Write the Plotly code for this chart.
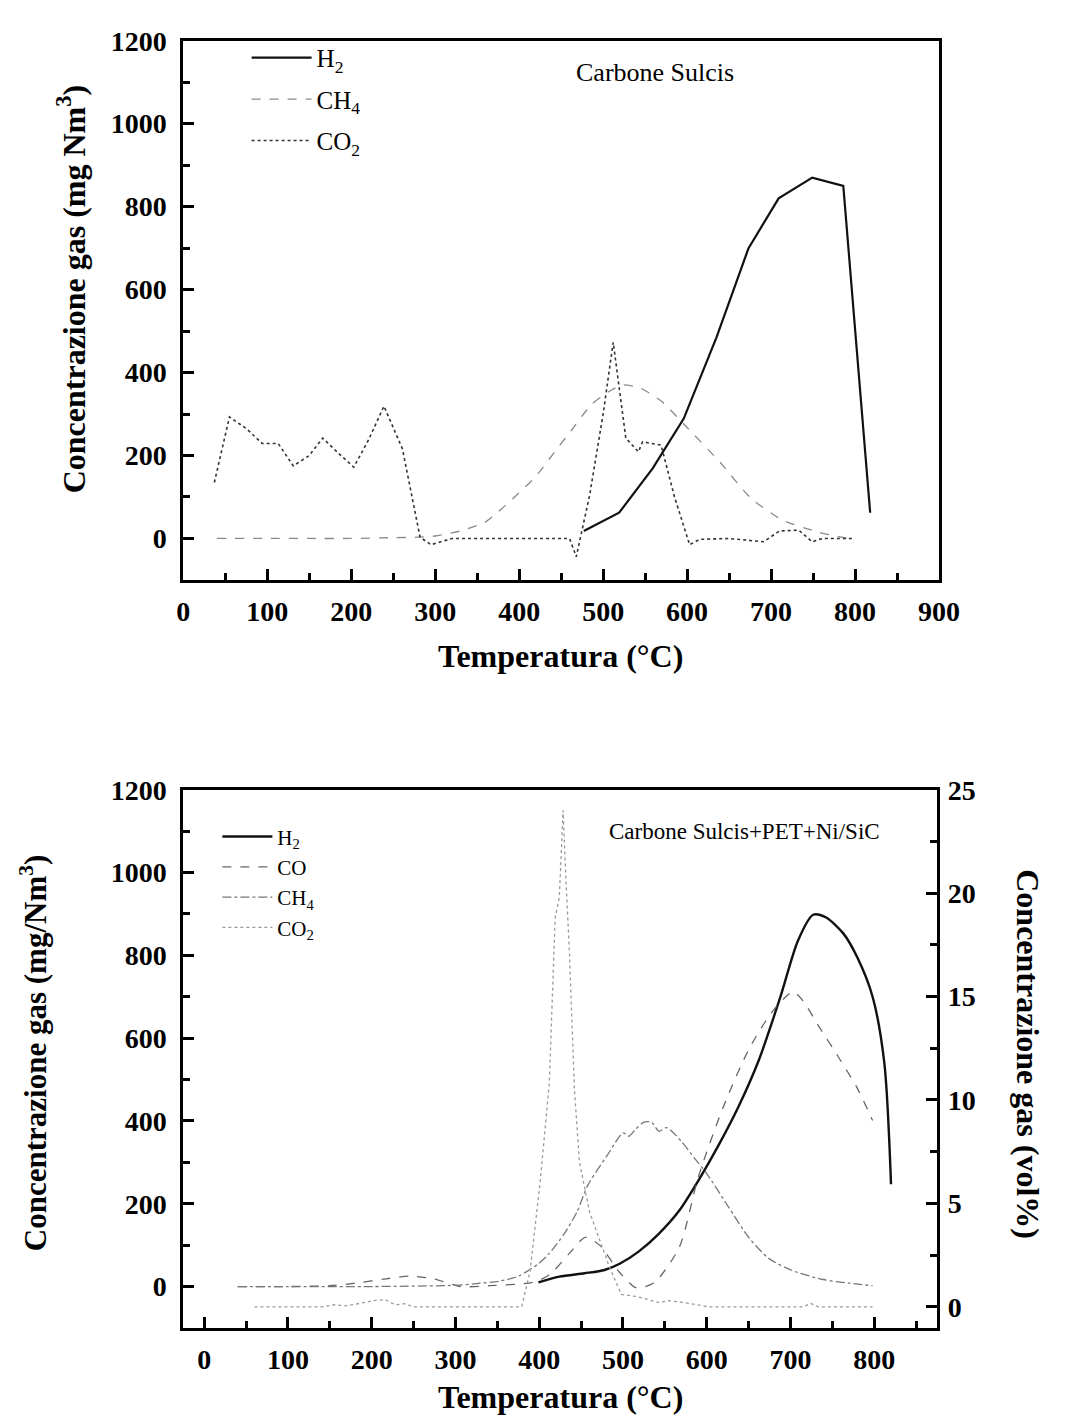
import plotly.graph_objects as go

# ---------------- Top chart: Carbone Sulcis ----------------
top_h2_x = [477, 519, 559, 596, 635, 673, 709, 749, 786, 818]
top_h2_y = [18, 62, 169, 289, 485, 699, 820, 870, 850, 62]

top_ch4_x = [40, 100, 150, 200, 250, 280, 300, 330, 360, 393, 420, 442, 465, 486, 510, 524, 545, 570, 596, 640, 676, 713, 757, 797]
top_ch4_y = [0, 0, 0, 0, 2, 3, 6, 18, 40, 97, 150, 208, 268, 323, 358, 370, 362, 330, 276, 182, 97, 45, 15, -2]

top_co2_x = [37, 55, 75, 94, 113, 131, 150, 166, 185, 203, 220, 239, 261, 282, 295, 320, 360, 400, 440, 460, 468, 484, 500, 512, 527, 542, 547, 569, 585, 603, 615, 650, 691, 710, 733, 749, 761, 799]
top_co2_y = [135, 293, 265, 229, 229, 175, 200, 242, 205, 172, 235, 319, 216, 3, -15, 0, 0, 0, 0, 0, -44, 105, 300, 473, 242, 209, 233, 225, 100, -15, -2, 0, -8, 18, 20, -8, 0, 0]

# ---------------- Bottom chart: Carbone Sulcis+PET+Ni/SiC ----------------
bot_h2_x = [399, 424, 454, 478, 496, 519, 543, 567, 590, 614, 638, 662, 688, 709, 727, 742, 763, 780, 798, 812, 820]
bot_h2_y = [10, 24, 32, 40, 55, 85, 128, 183, 256, 341, 435, 546, 700, 836, 898, 892, 853, 794, 700, 540, 247]

bot_co_x = [40, 100, 150, 180, 215, 245, 275, 306, 340, 392, 412, 436, 455, 472, 496, 516, 537, 567, 590, 620, 650, 679, 703, 715, 733, 757, 780, 798]
bot_co_y = [0, 0, 2, 8, 18, 25, 18, 0, 2, 10, 28, 80, 119, 100, 34, -3, 9, 94, 265, 435, 572, 666, 712, 690, 631, 555, 478, 401]

bot_ch4_x = [40, 100, 200, 300, 330, 353, 375, 399, 412, 430, 445, 458, 481, 500, 507, 515, 525, 534, 543, 552, 570, 585, 600, 626, 650, 674, 703, 739, 770, 798]
bot_ch4_y = [0, 0, 0, 3, 8, 13, 25, 55, 80, 128, 180, 245, 316, 371, 363, 380, 397, 397, 375, 384, 350, 311, 273, 192, 119, 68, 38, 17, 8, 2]

# CO2 in vol% (right axis)
bot_co2_x = [60, 100, 140, 156, 170, 190, 202, 216, 228, 239, 250, 300, 350, 379, 389, 401, 412, 419, 424, 428.5, 432, 436, 442, 448, 460, 472, 484, 498, 516, 531, 543, 555, 579, 602, 650, 715, 724, 733, 760, 798]
bot_co2_y = [0, 0, 0, 0.1, 0.05, 0.2, 0.3, 0.35, 0.1, 0.15, 0, 0, 0, 0, 1.7, 6.0, 10.8, 18.8, 19.8, 24.0, 20.5, 17.2, 10.5, 7.0, 4.6, 3.2, 1.9, 0.6, 0.5, 0.34, 0.2, 0.3, 0.17, 0, 0, 0, 0.17, 0, 0, 0]

W, H = 1073, 1416
FONT = "Liberation Serif"

fig = go.Figure()

# top traces
fig.add_trace(go.Scatter(x=top_h2_x, y=top_h2_y, mode="lines", name="H<sub>2</sub>",
                         line=dict(color="#111111", width=2.2), xaxis="x", yaxis="y",
                         legend="legend", legendgroup="a"))
fig.add_trace(go.Scatter(x=top_ch4_x, y=top_ch4_y, mode="lines", name="CH<sub>4</sub>",
                         line=dict(color="#8a8a8a", width=1.3, dash="dash", shape="spline", smoothing=0.6),
                         xaxis="x", yaxis="y", legend="legend", legendgroup="b"))
fig.add_trace(go.Scatter(x=top_co2_x, y=top_co2_y, mode="lines", name="CO<sub>2</sub>",
                         line=dict(color="#333333", width=1.6, dash="dot"),
                         xaxis="x", yaxis="y", legend="legend", legendgroup="c"))

# bottom traces
fig.add_trace(go.Scatter(x=bot_h2_x, y=bot_h2_y, mode="lines", name="H<sub>2</sub>",
                         line=dict(color="#111111", width=2.4, shape="spline", smoothing=0.8),
                         xaxis="x2", yaxis="y2", legend="legend2", legendgroup="d"))
fig.add_trace(go.Scatter(x=bot_co_x, y=bot_co_y, mode="lines", name="CO",
                         line=dict(color="#666666", width=1.3, dash="dash", shape="spline", smoothing=0.7),
                         xaxis="x2", yaxis="y2", legend="legend2", legendgroup="e"))
fig.add_trace(go.Scatter(x=bot_ch4_x, y=bot_ch4_y, mode="lines", name="CH<sub>4</sub>",
                         line=dict(color="#777777", width=1.3, dash="dashdot", shape="spline", smoothing=0.7),
                         xaxis="x2", yaxis="y2", legend="legend2", legendgroup="f"))
fig.add_trace(go.Scatter(x=bot_co2_x, y=bot_co2_y, mode="lines", name="CO<sub>2</sub>",
                         line=dict(color="#9a9a9a", width=1.3, dash="dot"),
                         xaxis="x2", yaxis="y3", legend="legend2", legendgroup="g"))

tickfont = dict(family=FONT, size=28, color="black", weight="bold")
axis_common = dict(showline=True, linecolor="black", linewidth=3, mirror=True,
                   ticks="inside", ticklen=11, tickwidth=3, tickcolor="black",
                   showgrid=False, zeroline=False, tickfont=tickfont)

def minor(d):
    return dict(ticks="inside", ticklen=7, tickwidth=3, tickcolor="black", dtick=d)

top_dom_x = [181 / W, 957 / W]
top_dom_y = [1 - 571 / H, 1 - 26 / H]
bot_dom_x = [181 / W, 955 / W]
bot_dom_y = [1 - 1327 / H, 1 - 783 / H]

fig.update_layout(
    width=W, height=H,
    margin=dict(l=0, r=0, t=0, b=0),
    paper_bgcolor="white", plot_bgcolor="white",
    showlegend=True,
    xaxis=dict(domain=top_dom_x, anchor="y", range=[0, 900], tickmode="linear", tick0=0, dtick=100,
               minor=minor(50), ticklabelstandoff=4, **axis_common),
    yaxis=dict(domain=top_dom_y, anchor="x", range=[-100, 1200], tickmode="linear", tick0=0, dtick=200,
               minor=minor(100), ticklabelstandoff=8, **axis_common),
    xaxis2=dict(domain=bot_dom_x, anchor="y2", range=[-25, 875], tickmode="linear", tick0=0, dtick=100,
                minor=minor(50), ticklabelstandoff=4, **axis_common),
    yaxis2=dict(domain=bot_dom_y, anchor="x2", range=[-100, 1200], tickmode="linear", tick0=0, dtick=200,
                minor=minor(100), ticklabelstandoff=8, **axis_common),
    yaxis3=dict(overlaying="y2", anchor="x2", side="right", range=[-1.02, 25], tickmode="linear", tick0=0, dtick=5,
                showline=True, linecolor="black", linewidth=3, ticks="inside", ticklen=11, tickwidth=3,
                tickcolor="black", showgrid=False, zeroline=False, tickfont=tickfont,
                minor=minor(2.5), ticklabelstandoff=2),
    legend=dict(x=246 / W, y=1 - 20 / H, xanchor="left", yanchor="top", bgcolor="rgba(0,0,0,0)",
                font=dict(family=FONT, size=25, color="black"), tracegroupgap=6, traceorder="grouped",
                itemwidth=60),
    legend2=dict(x=216 / W, y=1 - 810 / H, xanchor="left", yanchor="top", bgcolor="rgba(0,0,0,0)",
                 font=dict(family=FONT, size=21, color="black"), tracegroupgap=0, traceorder="grouped",
                 itemwidth=50),
)

def ann(text, px, py, size, bold=False, angle=0):
    fig.add_annotation(text=text, x=px / W, y=1 - py / H, xref="paper", yref="paper",
                       xanchor="center", yanchor="middle", showarrow=False, textangle=angle,
                       font=dict(family=FONT, size=size, color="black", weight="bold" if bold else "normal"))

ann("Carbone Sulcis", 665, 58, 26)
ann("Carbone Sulcis+PET+Ni/SiC", 757, 825, 23)
ann("Temperatura (°C)", 568, 648, 32, bold=True)
ann("Temperatura (°C)", 568, 1397, 32, bold=True)
ann("Concentrazione gas (mg Nm<sup>3</sup>)", 66, 277, 32, bold=True, angle=-90)
ann("Concentrazione gas (mg/Nm<sup>3</sup>)", 28, 1049, 31, bold=True, angle=-90)
ann("Concentrazione gas (vol%)", 1048, 1050, 32, bold=True, angle=90)

fig.write_html("out.html", config={"displayModeBar": False},
               post_script="document.body.style.margin='0px';document.body.style.overflow='hidden';")
